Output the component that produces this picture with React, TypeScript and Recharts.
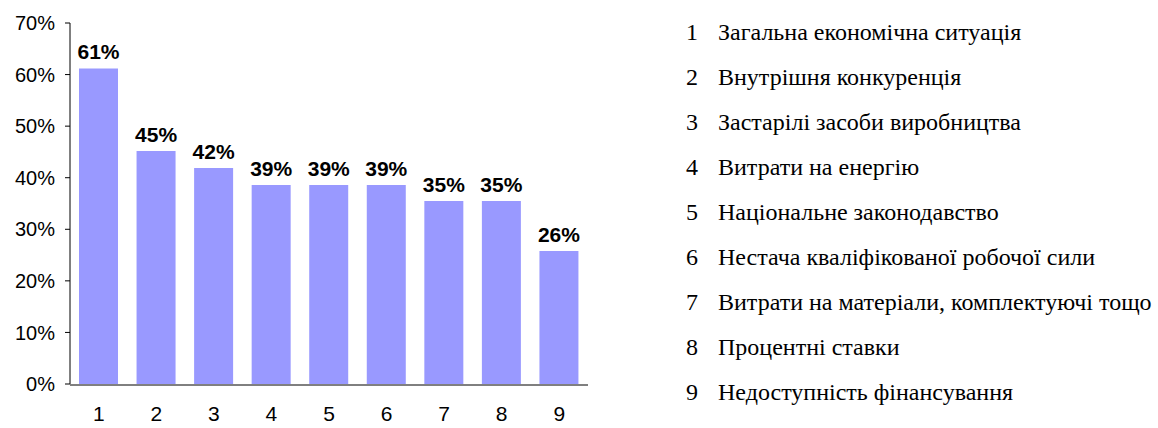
import { BarChart, Bar, XAxis, YAxis, LabelList } from "recharts";

// Ranking of obstacles, share of respondents (%)
const categories = ["1", "2", "3", "4", "5", "6", "7", "8", "9"];
const shares = [61.2, 45.2, 41.9, 38.6, 38.6, 38.6, 35.5, 35.5, 25.8];
const labels = ["61%", "45%", "42%", "39%", "39%", "39%", "35%", "35%", "26%"];
const obstacleNames = [
  "Загальна економічна ситуація",
  "Внутрішня конкуренція",
  "Застарілі засоби виробництва",
  "Витрати на енергію",
  "Національне законодавство",
  "Нестача кваліфікованої робочої сили",
  "Витрати на матеріали, комплектуючі тощо",
  "Процентні ставки",
  "Недоступність фінансування",
];
const yTicks = [0, 10, 20, 30, 40, 50, 60, 70];
const edgeTicks = [0.5, 1.5, 2.5, 3.5, 4.5, 5.5, 6.5, 7.5, 8.5, 9.5];

const data = categories.map((cat, i) => ({
  cat,
  pos: i + 1,
  share: shares[i],
  label: labels[i],
}));

const sans = "'Liberation Sans', Arial, sans-serif";

export default function App() {
  return (
    <div style={{ position: "absolute", left: 0, top: 0, width: 1158, height: 428, background: "#fff" }}>
      <BarChart
        width={1158}
        height={428}
        data={data}
        margin={{ top: 23, right: 570, bottom: 42, left: 10 }}
      >
        {/* tick marks sit between categories, like the original spreadsheet chart */}
        <XAxis
          xAxisId="edges"
          dataKey="pos"
          type="number"
          domain={[0.5, 9.5]}
          allowDataOverflow
          ticks={edgeTicks}
          tick={false}
          tickSize={6}
          height={1}
          axisLine={{ stroke: "#000" }}
          tickLine={{ stroke: "#000" }}
        />
        <XAxis
          dataKey="cat"
          tick={{ fontFamily: sans, fontSize: 21, fill: "#000" }}
          tickLine={false}
          axisLine={false}
          tickSize={0}
          tickMargin={22}
          height={1}
        />
        <YAxis
          domain={[0, 70]}
          ticks={yTicks}
          tickFormatter={(v: number) => `${v}%`}
          tick={{ fontFamily: sans, fontSize: 20, fill: "#000" }}
          tickSize={5}
          tickMargin={10}
          width={60}
          axisLine={{ stroke: "#000" }}
          tickLine={{ stroke: "#000" }}
        />
        <Bar dataKey="share" fill="#9999ff" barSize={39} isAnimationActive={false}>
          <LabelList
            dataKey="label"
            position="top"
            offset={9}
            style={{ fontFamily: sans, fontSize: 21, fontWeight: "bold", fill: "#000" }}
          />
        </Bar>
      </BarChart>
      <div
        style={{
          position: "absolute",
          left: 686,
          top: 10,
          fontFamily: "'Liberation Serif', 'Times New Roman', serif",
          fontSize: 24,
          color: "#000",
        }}
      >
        {obstacleNames.map((name, i) => (
          <div key={name} style={{ display: "flex", height: 45, lineHeight: "45px", whiteSpace: "nowrap" }}>
            <span style={{ width: 32 }}>{categories[i]}</span>
            <span>{name}</span>
          </div>
        ))}
      </div>
    </div>
  );
}
